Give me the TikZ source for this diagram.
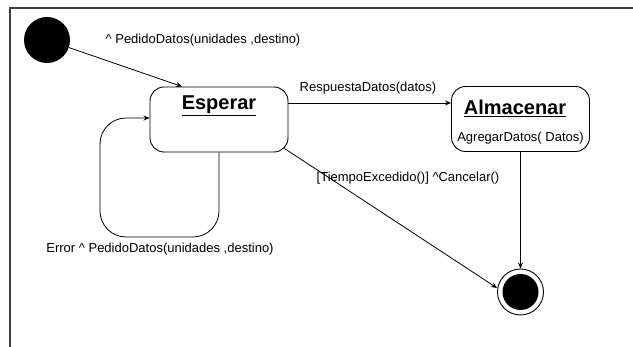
\documentclass[tikz,border=0pt]{standalone}
\usepackage{fontspec}
\setmainfont{Liberation Sans}
\usetikzlibrary{arrows.meta}
\begin{document}
\begin{tikzpicture}[x=1pt,y=-1pt,
  lbl/.style={inner sep=0pt,font=\fontsize{13}{15}\selectfont},
  title/.style={inner sep=0pt,font=\fontsize{20}{23}\selectfont\bfseries},
  statebox/.style={draw,line width=0.9pt,rounded corners=14pt,minimum width=138pt,minimum height=65pt,inner sep=0pt},
  arr/.style={line width=0.8pt,-{Stealth[length=6pt,width=5pt]}}]
\useasboundingbox (0,0) rectangle (633,347);
\fill[white] (0,0) rectangle (633,347);
% frame
\draw[line width=2pt,black!75] (10,347) -- (10,8) -- (633,8);

% states
\node[circle,fill=black,minimum size=46pt,inner sep=0pt] (init) at (47,40) {};
\node[statebox] (esp) at (219,119.5) {};
\node[title] (espname) at (219,106) {\underline{Esperar}};
\node[statebox] (alm) at (520.5,119) {};
\node[title] (almname) at (515,108) {\underline{Almacenar}};
\node[lbl] (almact) at (520.5,138) {AgregarDatos( Datos)};
\node[circle,draw,line width=0.9pt,minimum size=46pt,inner sep=0pt,
  path picture={\fill (path picture bounding box.center) circle (18pt);}] (fin) at (520.5,292) {};

% transitions
\draw[arr] (init) -- ([xshift=-37pt]esp.north);
\draw[arr] ([yshift=16.5pt]esp.east) -- ([yshift=16.5pt]esp.east -| alm.west);
\draw[arr] ([xshift=-4pt,yshift=4pt]esp.south east) -- ([yshift=4pt]fin.west);
\draw[arr] (alm.south) -- (fin.north);
\coordinate (loopbl) at (100,237);
\draw[arr,rounded corners=26pt] (esp.south) |- (loopbl) |- ([yshift=1.5pt]esp.west);

% transition labels
\node[lbl] (l1) at (203,40) {\textasciicircum{} PedidoDatos(unidades ,destino)};
\node[lbl] (l2) at (368,88) {RespuestaDatos(datos)};
\node[lbl] (l3) at (160,249) {Error \textasciicircum{} PedidoDatos(unidades ,destino)};
\node[lbl] (l4) at (408,178) {[TiempoExcedido()] \textasciicircum Cancelar()};
\end{tikzpicture}
\end{document}
